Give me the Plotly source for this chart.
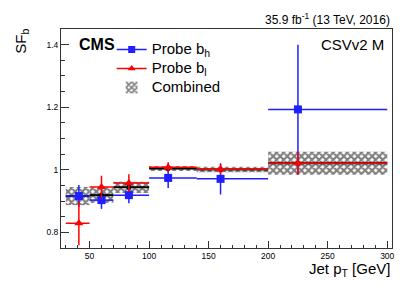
import plotly.graph_objects as go

# ---- data ----
bin_lo = [30, 50, 70, 100, 140, 200]
bin_hi = [50, 70, 100, 140, 200, 300]
pt_mean = [41, 60, 83, 116, 160, 225]

comb_sf = [0.916, 0.919, 0.944, 1.004, 1.001, 1.021]
comb_err = [0.029, 0.025, 0.018, 0.008, 0.009, 0.037]

bh_sf = [0.916, 0.903, 0.919, 0.974, 0.971, 1.193]
bh_err = [0.035, 0.028, 0.026, 0.032, 0.050, 0.207]

bl_sf = [0.829, 0.945, 0.958, 1.008, 1.002, 1.021]
bl_err = [0.070, 0.036, 0.028, 0.016, 0.017, 0.037]

x_ticks = [50, 100, 150, 200, 250, 300]
y_ticks = [0.8, 1.0, 1.2, 1.4]
y_ticktext = ["0.8", "1", "1.2", "1.4"]

# ---- layout geometry ----
W, H = 407, 293
ML, MR, MT, MB = 61, 13, 29, 45
PW, PH = W - ML - MR, H - MT - MB
def px(x):
    return (x - ML) / PW
def py(y):
    return (H - MB - y) / PH

FONT = "Liberation Sans, Arial, Helvetica, sans-serif"
BLUE = "#1f1fff"
RED = "#ff0000"

centers = [(a + b) / 2 for a, b in zip(bin_lo, bin_hi)]
widths = [b - a for a, b in zip(bin_lo, bin_hi)]
err_lo = [m - a for m, a in zip(pt_mean, bin_lo)]
err_hi = [b - m for m, b in zip(pt_mean, bin_hi)]

HATCH = dict(shape="x", fgcolor="black", bgcolor="white", size=5, solidity=0.65)

fig = go.Figure()

# hatched uncertainty band of combined
fig.add_trace(go.Bar(
    x=centers, y=[2 * e for e in comb_err],
    base=[c - e for c, e in zip(comb_sf, comb_err)],
    width=widths,
    marker=dict(color="black", line=dict(width=0), pattern=HATCH),
    showlegend=False, hoverinfo="skip"))

# combined central values
fig.add_trace(go.Scatter(
    x=pt_mean, y=comb_sf, mode="markers",
    marker=dict(color="black", size=5, symbol="circle"),
    error_x=dict(type="data", symmetric=False, array=err_hi, arrayminus=err_lo,
                 color="black", thickness=2, width=0),
    showlegend=False))

# probe b_h
fig.add_trace(go.Scatter(
    x=pt_mean, y=bh_sf, mode="markers",
    marker=dict(color=BLUE, size=8, symbol="square"),
    error_x=dict(type="data", symmetric=False, array=err_hi, arrayminus=err_lo,
                 color=BLUE, thickness=1.5, width=0),
    error_y=dict(type="data", array=bh_err, color=BLUE, thickness=1.5, width=0),
    showlegend=False))

# probe b_l
fig.add_trace(go.Scatter(
    x=pt_mean, y=bl_sf, mode="markers",
    marker=dict(color=RED, size=8, symbol="triangle-up"),
    error_x=dict(type="data", symmetric=False, array=err_hi, arrayminus=err_lo,
                 color=RED, thickness=1.5, width=0),
    error_y=dict(type="data", array=bl_err, color=RED, thickness=1.5, width=0),
    showlegend=False))

# legend entries
LEG = '<span style="font-size:15px">{}</span>'
fig.add_trace(go.Scatter(x=[None], y=[None], mode="lines+markers",
                         name=LEG.format("Probe b<sub>h</sub>"),
                         line=dict(color=BLUE, width=1.5),
                         marker=dict(color=BLUE, size=7, symbol="square")))
fig.add_trace(go.Scatter(x=[None], y=[None], mode="lines+markers",
                         name=LEG.format("Probe b<sub>l</sub>"),
                         line=dict(color=RED, width=1.5),
                         marker=dict(color=RED, size=7, symbol="triangle-up")))
fig.add_trace(go.Bar(x=[None], y=[None], name=LEG.format("Combined"),
                     marker=dict(color="black", pattern=HATCH)))

axis_common = dict(showgrid=False, zeroline=False, showline=True, mirror=True,
                   linecolor="#333333", linewidth=1, ticks="inside",
                   tickcolor="#333333", tickfont=dict(family=FONT, size=8.5, color="black"))

fig.update_layout(
    width=W, height=H,
    margin=dict(l=ML, r=MR, t=MT, b=MB),
    plot_bgcolor="white", paper_bgcolor="white",
    barmode="overlay",
    font=dict(family=FONT, color="black"),
    xaxis=dict(range=[26, 304], tickvals=x_ticks, ticklen=7, tickwidth=1,
               minor=dict(dtick=10, ticklen=3.5, ticks="inside", tickcolor="#333333"),
               **axis_common),
    yaxis=dict(range=[0.75, 1.45], tickvals=y_ticks, ticktext=y_ticktext,
               ticklen=8, tickwidth=1,
               minor=dict(dtick=0.05, ticklen=4, ticks="inside", tickcolor="#333333"),
               **axis_common),
    legend=dict(x=px(112), y=py(35), xanchor="left", yanchor="top",
                bgcolor="rgba(0,0,0,0)", font=dict(family=FONT, size=11),
                tracegroupgap=0, itemclick=False),
    annotations=[
        dict(text="35.9 fb<sup>-1</sup> (13 TeV, 2016)", xref="paper", yref="paper",
             x=px(394), y=py(19), xanchor="right", yanchor="middle", showarrow=False,
             font=dict(family=FONT, size=12)),
        dict(text="<b>CMS</b>", xref="paper", yref="paper",
             x=px(77), y=py(44), xanchor="left", yanchor="middle", showarrow=False,
             font=dict(family=FONT, size=16)),
        dict(text="CSVv2 M", xref="paper", yref="paper",
             x=px(388), y=py(44), xanchor="right", yanchor="middle", showarrow=False,
             font=dict(family=FONT, size=15)),
        dict(text="SF<sub>b</sub>", xref="paper", yref="paper", textangle=-90,
             x=px(21), y=py(27), xanchor="center", yanchor="top", showarrow=False,
             font=dict(family=FONT, size=15)),
        dict(text="Jet p<sub>T</sub> [GeV]", xref="paper", yref="paper",
             x=px(394), y=py(258), xanchor="right", yanchor="top", showarrow=False,
             font=dict(family=FONT, size=15)),
    ],
)

fig.write_html("out.html", config={"displayModeBar": False},
               post_script="document.body.style.margin='0px';")
